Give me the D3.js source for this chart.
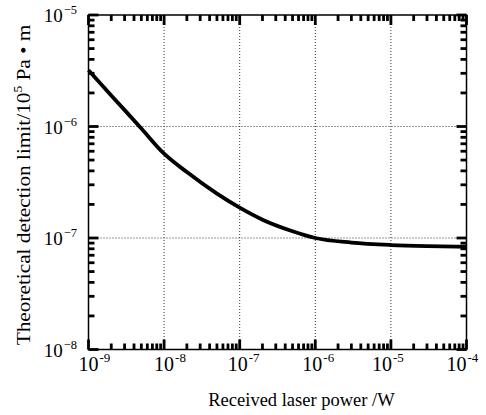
<!DOCTYPE html>
<html><head><meta charset="utf-8">
<script src="https://cdn.jsdelivr.net/npm/d3@7"></script>
<style>
body{margin:0;background:#fff;}
text{font-family:"Liberation Serif","Times New Roman",serif;fill:#000;}
</style></head>
<body>
<svg id="c" width="486" height="415"></svg>
<script>
// Data
const power = [1e-9, 2e-9, 5e-9, 1e-8, 2e-8, 5e-8, 1e-7, 2e-7, 5e-7, 1e-6, 3e-6, 1e-5, 3e-5, 1e-4];
const detectionLimit = [3.2e-6, 1.9e-6, 9.6e-7, 5.7e-7, 3.9e-7, 2.5e-7, 1.87e-7, 1.46e-7, 1.15e-7, 1.0e-7, 9.1e-8, 8.65e-8, 8.45e-8, 8.35e-8];
const xTickExp = [-9, -8, -7, -6, -5, -4];
const yTickExp = [-8, -7, -6, -5];
const xLabel = "Received laser power /W";
const yLabelMain = "Theoretical detection limit/10";
const yLabelSup = "5";
const yLabelTail = " Pa • m";

const svg = d3.select("#c");
const L = 88.5, R = 466.5, T = 15, B = 349.5;
const x = d3.scaleLog().domain([1e-9, 1e-4]).range([L, R]);
const y = d3.scaleLog().domain([1e-8, 1e-5]).range([B, T]);

// gridlines
const g = svg.append("g");
xTickExp.slice(1, -1).forEach(e => {
  g.append("line").attr("x1", x(10**e)).attr("x2", x(10**e)).attr("y1", T).attr("y2", B)
    .attr("stroke", "#333").attr("stroke-width", 1).attr("stroke-dasharray", "1,2");
});
yTickExp.slice(1, -1).forEach(e => {
  g.append("line").attr("x1", L).attr("x2", R).attr("y1", y(10**e)).attr("y2", y(10**e))
    .attr("stroke", "#333").attr("stroke-width", 1).attr("stroke-dasharray", "1,2");
});

// minor & major ticks
function ticksFor(domainExps) {
  const out = [];
  for (let i = 0; i < domainExps.length; i++) {
    const e = domainExps[i];
    out.push({v: 10**e, major: true});
    if (i < domainExps.length - 1) for (let m = 2; m <= 9; m++) out.push({v: m * 10**e, major: false});
  }
  return out;
}
const tk = svg.append("g").attr("stroke", "#000").attr("stroke-width", 2.8);
ticksFor(xTickExp).forEach(t => {
  const len = t.major ? 10 : 6;
  const px = x(t.v);
  tk.append("line").attr("x1", px).attr("x2", px).attr("y1", B).attr("y2", B - len);
  tk.append("line").attr("x1", px).attr("x2", px).attr("y1", T).attr("y2", T + len);
});
ticksFor(yTickExp).forEach(t => {
  const len = t.major ? 10 : 6;
  const py = y(t.v);
  tk.append("line").attr("x1", L).attr("x2", L + len).attr("y1", py).attr("y2", py);
  tk.append("line").attr("x1", R).attr("x2", R - len).attr("y1", py).attr("y2", py);
});

// frame
svg.append("rect").attr("x", L).attr("y", T).attr("width", R - L).attr("height", B - T)
  .attr("fill", "none").attr("stroke", "#000").attr("stroke-width", 1.5);

// curve
const line = d3.line().x((d, i) => x(power[i])).y(d => y(d)).curve(d3.curveMonotoneX);
svg.append("path").datum(detectionLimit).attr("d", line)
  .attr("fill", "none").attr("stroke", "#000").attr("stroke-width", 3.8).attr("stroke-linejoin", "round");

// x tick labels (label layout shifts as in the reference)
const xLabelShift = {"-9": 0, "-8": 0, "-7": -2, "-6": -3, "-5": -9, "-4": -10};
xTickExp.forEach(e => {
  const px = x(10**e) + xLabelShift[e];
  const base = svg.append("text").attr("x", px).attr("y", 371).attr("text-anchor", "middle")
    .attr("font-size", 20).text("10");
  const w = base.node().getComputedTextLength();
  svg.append("text").attr("x", px + w / 2 + 1).attr("y", 362).attr("font-size", 13).text("-" + Math.abs(e));
});
// y tick labels
yTickExp.forEach(e => {
  const py = y(10**e);
  const sup = svg.append("text").attr("x", 77).attr("y", py - 1).attr("text-anchor", "end")
    .attr("font-size", 12.5).text("\u2212" + Math.abs(e));
  const sw = sup.node().getComputedTextLength();
  svg.append("text").attr("x", 77 - sw - 1).attr("y", py + 7).attr("text-anchor", "end")
    .attr("font-size", 19).text("10");
});

// axis titles
svg.append("text").attr("x", 301.5).attr("y", 406).attr("text-anchor", "middle")
  .attr("font-size", 18.5).text(xLabel);
const yt = svg.append("text").attr("transform", "translate(30,185) rotate(-90) scale(1.12,1)")
  .attr("text-anchor", "middle").attr("font-size", 19);
yt.append("tspan").text(yLabelMain);
yt.append("tspan").attr("dy", -8).attr("font-size", 12).text(yLabelSup);
yt.append("tspan").attr("dy", 8).text(yLabelTail);
</script>
</body></html>
